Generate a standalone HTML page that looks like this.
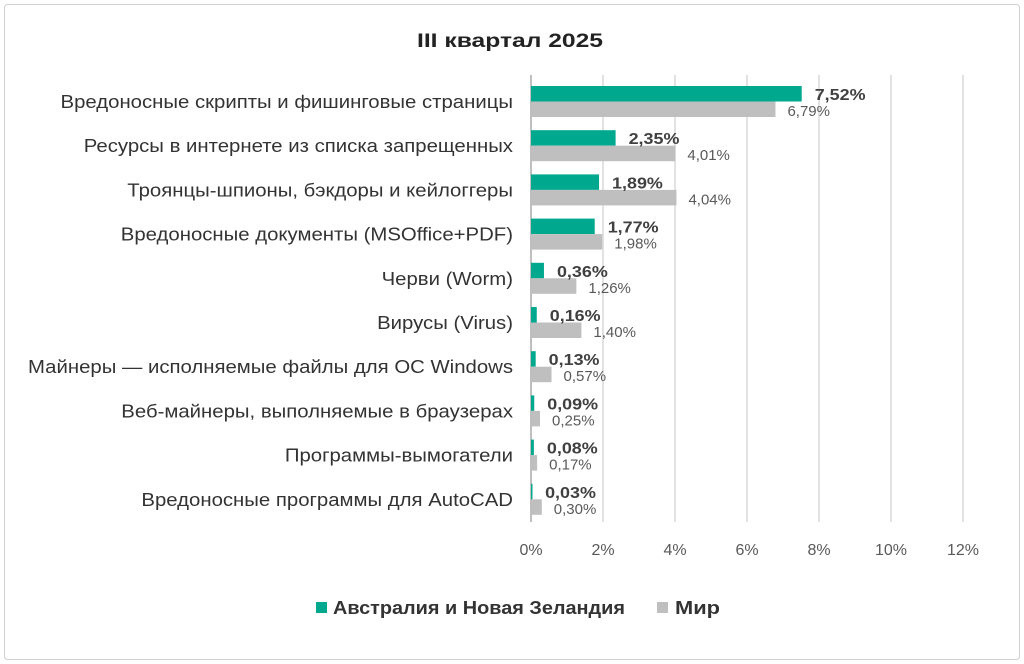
<!DOCTYPE html>
<html><head><meta charset="utf-8"><style>
body{margin:0;background:#fff;}
svg{display:block;font-family:"Liberation Sans","DejaVu Sans",sans-serif;}
</style></head><body>
<svg id="chart" width="1024" height="664">
<rect x="4.5" y="4.5" width="1015" height="655" rx="3" fill="#fff" stroke="#d0d0d0"/>
<text x="510" y="47" text-anchor="middle" font-size="19" font-weight="bold" fill="#222" textLength="186" lengthAdjust="spacingAndGlyphs">III квартал 2025</text>
<g id="grid"></g><g id="bars"></g><g id="cats"></g><g id="ticks"></g>
<g>
<rect x="316" y="602" width="11" height="11" fill="#00a88e"/>
<text x="333" y="614" font-size="18" font-weight="bold" fill="#333" textLength="292" lengthAdjust="spacingAndGlyphs">Австралия и Новая Зеландия</text>
<rect x="657" y="602" width="11" height="11" fill="#bfbfbf"/>
<text x="675" y="614" font-size="18" font-weight="bold" fill="#333" textLength="45" lengthAdjust="spacingAndGlyphs">Мир</text>
</g>
</svg>
<script>
const categories=["Вредоносные скрипты и фишинговые страницы","Ресурсы в интернете из списка запрещенных","Троянцы-шпионы, бэкдоры и кейлоггеры","Вредоносные документы (MSOffice+PDF)","Черви (Worm)","Вирусы (Virus)","Майнеры — исполняемые файлы для ОС Windows","Веб-майнеры, выполняемые в браузерах","Программы-вымогатели","Вредоносные программы для AutoCAD"];
const anzValues=[7.52,2.35,1.89,1.77,0.36,0.16,0.13,0.09,0.08,0.03];
const worldValues=[6.79,4.01,4.04,1.98,1.26,1.40,0.57,0.25,0.17,0.30];
const tickValues=[0,2,4,6,8,10,12];
const NS="http://www.w3.org/2000/svg";
const x0=531,pxPer=36,plotTop=80,band=44.2,plotBottom=522;
const xs=v=>x0+v*pxPer;
const fmt=v=>v.toFixed(2).replace('.',',')+'%';
function mk(tag,attrs,parent,text){const e=document.createElementNS(NS,tag);for(const k in attrs)e.setAttribute(k,attrs[k]);if(text!==undefined)e.textContent=text;document.getElementById(parent).appendChild(e);return e;}
function stretch(el,f){const w=el.getComputedTextLength();el.setAttribute('textLength',w*f);el.setAttribute('lengthAdjust','spacingAndGlyphs');}
tickValues.forEach(t=>{
 const g=mk('line',{x1:xs(t),x2:xs(t),y1:75,y2:plotBottom,stroke:t===0?'#bfbfbf':'#d9d9d9','stroke-width':t===0?2:1.5},'grid');
 
 
 const l=mk('text',{x:xs(t),y:555,'text-anchor':'middle','font-size':16,fill:'#595959'},'ticks',t+'%');
 
 
});
categories.forEach((c,i)=>{
 const b=plotTop+i*band;
 const ct=mk('text',{x:513,y:b+28,'text-anchor':'end','font-size':18,fill:'#333'},'cats',c);
 
 
 stretch(ct,1.13);
 const a=mk('rect',{x:x0,y:b+6,width:Math.max(anzValues[i]*pxPer,1.5),height:15.5,fill:'#00a88e'},'bars');
 
 
 const w=mk('rect',{x:x0,y:b+21.5,width:worldValues[i]*pxPer,height:15.5,fill:'#bfbfbf'},'bars');
 
 
 const al=mk('text',{x:xs(anzValues[i])+13,y:b+20,'font-size':16,'font-weight':'bold',fill:'#404040'},'bars',fmt(anzValues[i]));
 
 
 stretch(al,1.12);
 const wl=mk('text',{x:xs(worldValues[i])+12,y:b+36,'font-size':15,fill:'#595959'},'bars',fmt(worldValues[i]));
 
 
});
</script>
</body></html>
